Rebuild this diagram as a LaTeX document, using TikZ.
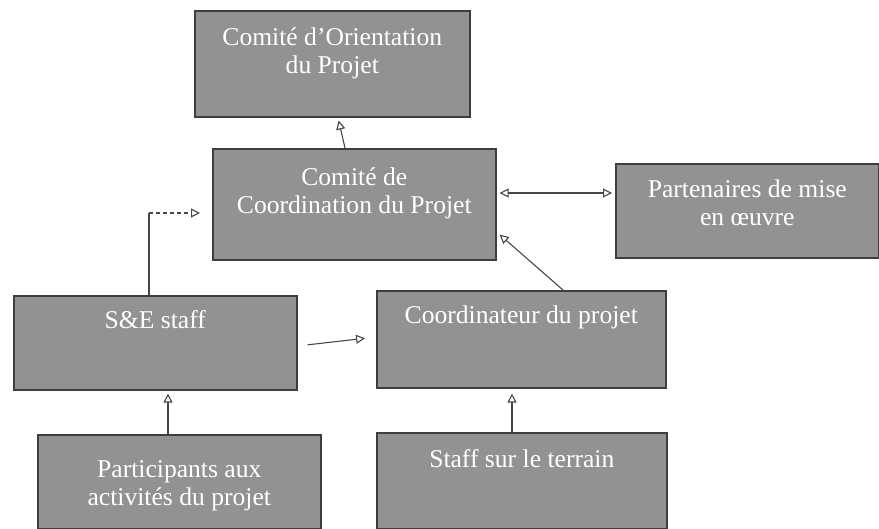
\documentclass[tikz,border=0pt]{standalone}
\usepackage{fontspec}
\setmainfont{Liberation Serif}
\usetikzlibrary{arrows.meta,positioning}
\definecolor{boxfill}{RGB}{146,146,146}
\definecolor{boxline}{RGB}{62,62,62}
\definecolor{arrline}{RGB}{70,70,70}
\tikzset{
  orgbox/.style={draw=boxline, fill=boxfill, line width=1.6pt, rectangle, inner sep=0pt, anchor=north west},
  boxtext/.style={anchor=north, inner sep=0pt, align=center, text=white,
    font=\fontsize{25.6}{28}\selectfont},
  arr/.style={draw=arrline, line width=1.1pt, -{Triangle[open,length=9pt,width=9pt]}},
  darr/.style={draw=arrline, line width=1.1pt, {Triangle[open,length=9pt,width=9pt]}-{Triangle[open,length=9pt,width=9pt]}},
}
\begin{document}
\begin{tikzpicture}[x=1pt,y=-1pt]
\useasboundingbox (0,0) rectangle (879,529);
% boxes
\node[orgbox, minimum width=275pt, minimum height=106pt] (o) at (194,10) {};
\node[orgbox, minimum width=283pt, minimum height=111pt] (c) at (212,148) {};
\node[orgbox, minimum width=263pt, minimum height=94pt] (p) at (615,163) {};
\node[orgbox, minimum width=283pt, minimum height=94pt] (s) at (13,295) {};
\node[orgbox, minimum width=289pt, minimum height=97pt] (k) at (376,290) {};
\node[orgbox, minimum width=283pt, minimum height=94pt] (pa) at (37,434) {};
\node[orgbox, minimum width=290pt, minimum height=96pt] (st) at (376,432) {};
% texts
\node[boxtext, below=9.4pt of o.north] (to) {\rule{0pt}{1em}Comité d’Orientation\\du Projet};
\node[boxtext, below=11.6pt of c.north] (tc) {\rule{0pt}{1em}Comité de\\Coordination du Projet};
\node[boxtext, below=8.4pt of p.north] (tp) {\rule{0pt}{1em}Partenaires de mise\\en œuvre};
\node[boxtext, below=7.4pt of s.north] (ts) {\rule{0pt}{1em}S\&E staff};
\node[boxtext, below=8pt of k.north] (tk) {\rule{0pt}{1em}Coordinateur du projet};
\node[boxtext, below=9.4pt of st.north] (tst) {\rule{0pt}{1em}Staff sur le terrain};
\node[boxtext, below=17.4pt of pa.north] (tpa) {\rule{0pt}{1em}Participants aux\\activités du projet};
% connectors
\draw[arr, shorten >=3pt] (c.north -| 345,0) -- (o.south -| 338,0);
\draw[darr, shorten <=3pt, shorten >=3pt] (c.east |- 0,193) -- (p.west |- 0,193);
\draw[arr, shorten >=4pt] (k.north -| 563,0) -- (c.east |- 0,232);
\coordinate (corner) at (149,213);
\draw[draw=arrline, line width=1.1pt] (s.north -| corner) -- (corner);
\draw[arr, dash pattern=on 4pt off 3pt, shorten >=12pt] (corner) -- (c.west |- corner);
\draw[arr, shorten <=10pt, shorten >=11pt] (s.east |- 0,346) -- (k.west |- 0,337);
\draw[arr, shorten >=3pt] (pa.north -| 168,0) -- (s.south -| 168,0);
\draw[arr, shorten >=5pt] (st.north -| 512,0) -- (k.south -| 512,0);
\end{tikzpicture}
\end{document}
